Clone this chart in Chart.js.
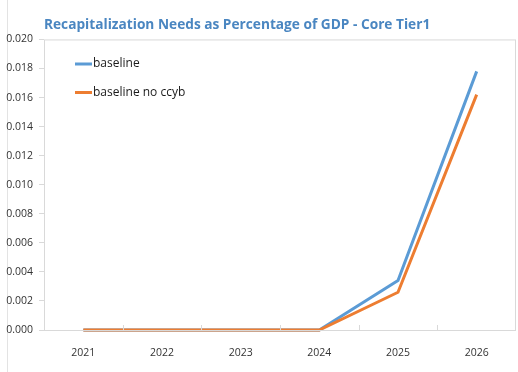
<!DOCTYPE html>
<html>
<head>
<meta charset="utf-8">
<script src="https://cdn.jsdelivr.net/npm/chart.js@4"></script>
<style>
   html, body { margin: 0; padding: 0; background: #fff; }
</style>
</head>
<body>
<canvas id="recapChart" width="518" height="372"></canvas>
<script>
// chart values
const years = ['2021', '2022', '2023', '2024', '2025', '2026'];
const baseline = [0, 0, 0, 0, 0.0034, 0.0178];
const baselineNoCcyb = [0, 0, 0, 0, 0.0026, 0.0162];
const seriesNames = ['baseline', 'baseline no ccyb'];
const yMin = 0;
const yMax = 0.02;
const yStep = 0.002;

const blue = '#5b9bd5';
const orange = '#ed7d31';
const frameGray = '#d9d9d9';

// plot frame, inward category ticks and the legend inside the plot
const framePlugin = {
   id: 'frame',
   beforeDraw(chart) {
      const ctx = chart.ctx;
      ctx.save();
      ctx.strokeStyle = '#e3e3e3';
      ctx.lineWidth = 1;
      ctx.beginPath();
      ctx.moveTo(7.5, 0);
      ctx.lineTo(7.5, chart.height);
      ctx.stroke();
      ctx.restore();
   },
   afterDatasetsDraw(chart) {
      const ctx = chart.ctx;
      const area = chart.chartArea;
      const x = chart.scales.x;
      ctx.save();
      ctx.strokeStyle = frameGray;
      ctx.lineWidth = 1;
      ctx.strokeRect(area.left + 0.5, area.top + 0.5, area.right - area.left - 1, area.bottom - area.top);
      // category boundary ticks, pointing up into the plot
      ctx.beginPath();
      for (let i = 1; i < years.length; i++) {
         const px = Math.round((x.getPixelForValue(i - 1) + x.getPixelForValue(i)) / 2) + 0.5;
         ctx.moveTo(px, area.bottom);
         ctx.lineTo(px, area.bottom - 5);
      }
      ctx.stroke();

      // legend
      const colors = [blue, orange];
      ctx.font = '12px "Open Sans"';
      ctx.textBaseline = 'middle';
      ctx.fillStyle = '#1a1a1a';
      seriesNames.forEach((name, i) => {
         const y = 64 + i * 28.5;
         ctx.strokeStyle = colors[i];
         ctx.lineWidth = 3;
         ctx.beginPath();
         ctx.moveTo(75, y);
         ctx.lineTo(92, y);
         ctx.stroke();
         ctx.fillText(name, 93, y);
      });
      ctx.restore();
   }
};

const ctx = document.getElementById('recapChart').getContext('2d');
const chart = new Chart(ctx, {
   type: 'line',
   data: {
      labels: years,
      datasets: [
         {
            label: seriesNames[0],
            data: baseline,
            borderColor: blue,
            backgroundColor: blue,
            borderWidth: 3,
            pointRadius: 0,
            tension: 0,
            clip: 5,
            order: 1
         },
         {
            label: seriesNames[1],
            data: baselineNoCcyb,
            borderColor: orange,
            backgroundColor: orange,
            borderWidth: 3,
            pointRadius: 0,
            tension: 0,
            clip: 5,
            order: 0
         }
      ]
   },
   options: {
      responsive: false,
      animation: false,
      layout: { padding: { left: 0, right: 2, top: 0, bottom: 0 } },
      plugins: {
         legend: { display: false },
         tooltip: { enabled: false },
         title: {
            display: true,
            text: 'Recapitalization Needs as Percentage of GDP - Core Tier1',
            align: 'start',
            fullSize: false,
            color: '#4a86c1',
            font: { family: 'Open Sans', size: 13.7, weight: 'bold' },
            padding: { top: 17, bottom: 6 }
         }
      },
      scales: {
         x: {
            offset: true,
            grid: { display: false, offset: true },
            border: { display: false },
            ticks: {
               color: '#333',
               font: { family: 'Open Sans', size: 10.5 },
               padding: 9,
               maxRotation: 0
            },
            afterFit(scale) { scale.height = 42; }
         },
         y: {
            min: yMin,
            max: yMax,
            grid: {
               drawOnChartArea: false,
               drawTicks: true,
               tickLength: 5,
               color: frameGray
            },
            border: { display: false },
            ticks: {
               stepSize: yStep,
               color: '#333',
               font: { family: 'Open Sans', size: 10.5 },
               padding: 6,
               callback: v => v.toFixed(3)
            },
            afterFit(scale) { scale.width = 44; }
         }
      }
   },
   plugins: [framePlugin]
});
</script>
</body>
</html>
